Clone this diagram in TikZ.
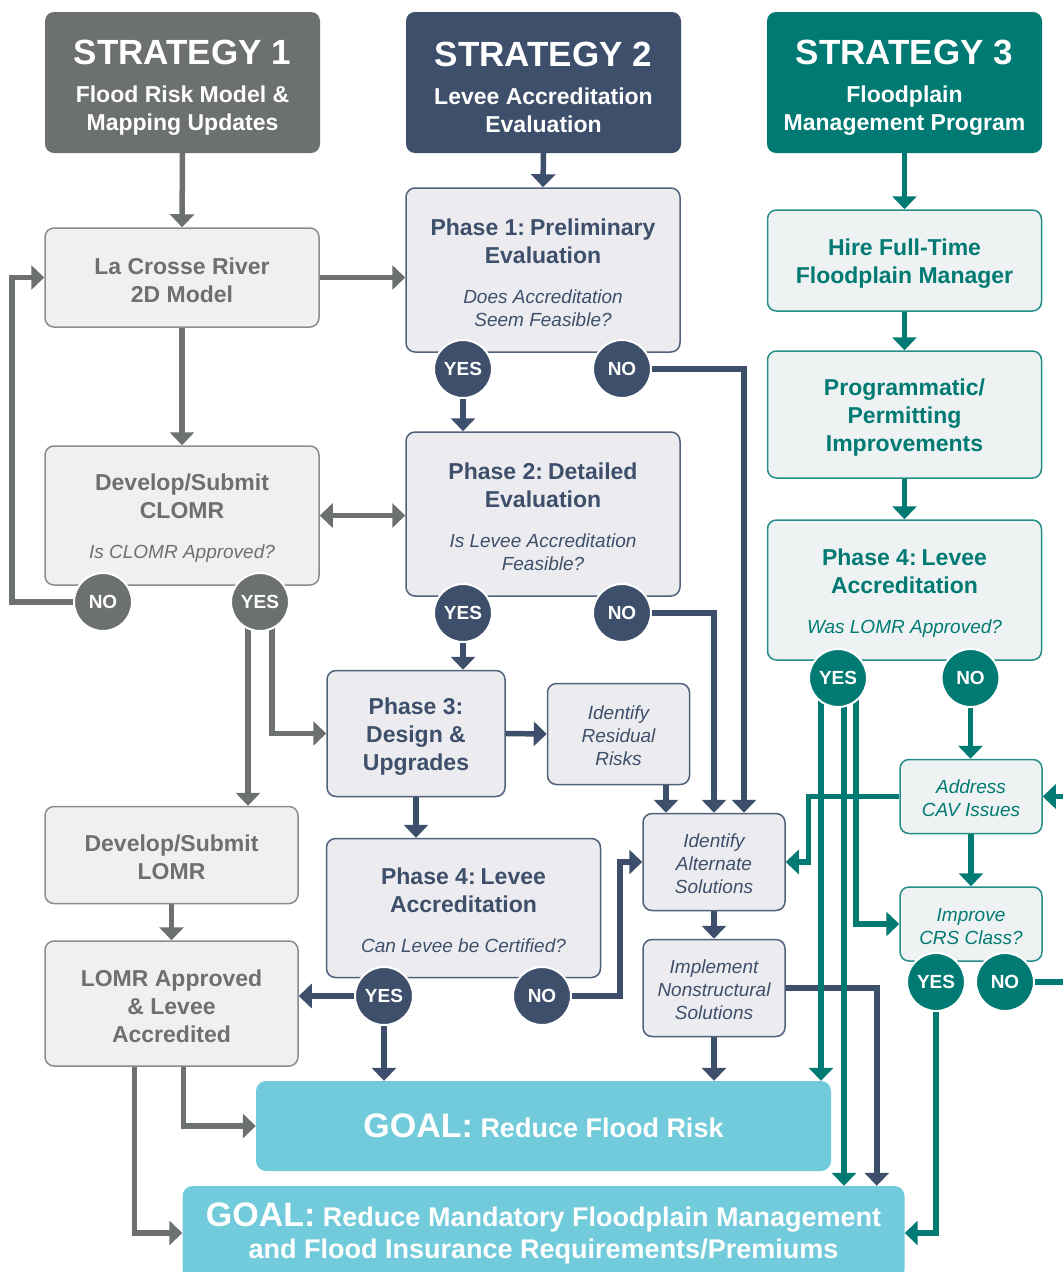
\documentclass[tikz,border=0pt]{standalone}
\usepackage{fontspec}
\setmainfont{Liberation Sans}
\usetikzlibrary{arrows.meta, positioning, backgrounds}

\definecolor{sgray}{RGB}{109,112,112}
\definecolor{snavy}{RGB}{61,79,106}
\definecolor{steal}{RGB}{0,122,115}
\definecolor{ggoal}{RGB}{114,203,218}
\definecolor{gfill}{RGB}{240,240,239}
\definecolor{nfill}{RGB}{236,236,240}
\definecolor{tfill}{RGB}{238,242,242}

% font size with a natural word space
\newcommand{\fs}[2]{\fontsize{#1}{#2}\selectfont\spaceskip=.278em\relax}
\newcommand{\hdrtxt}[2]{{\fs{35}{40}\rule{0pt}{34pt}#1\par}{\vskip10pt\fs{23}{28}#2\par}}
\newcommand{\ttl}[1]{{\fs{23}{28}\bfseries\rule{0pt}{22pt}#1\par}}
\newcommand{\qst}[1]{{\vskip17pt\fs{19}{23}\itshape #1\par}}
\newcommand{\itl}[1]{{\fs{19}{23}\itshape\rule{0pt}{18pt}#1\par}}

\tikzset{Head/.tip={Triangle[width=24pt,length=13pt]}}

\begin{document}
\begin{tikzpicture}[x=1pt, y=-1pt,
    hdr/.style={rectangle, rounded corners=9pt, text=white, font=\bfseries, align=center, inner sep=4pt, minimum width=275pt, minimum height=141pt, text width=266pt},
    gbox/.style={rectangle, rounded corners=9pt, draw=sgray!80, line width=1.5pt, fill=gfill, text=sgray, align=center, inner sep=4pt},
    nbox/.style={rectangle, rounded corners=9pt, draw=snavy!90, line width=1.5pt, fill=nfill, text=snavy, align=center, inner sep=4pt},
    tbox/.style={rectangle, rounded corners=9pt, draw=steal!85, line width=1.5pt, fill=tfill, text=steal, align=center, inner sep=4pt},
    wbig/.style={minimum width=274pt, text width=264pt},
    wlomr/.style={minimum width=253pt, text width=244pt},
    wph3/.style={minimum width=178pt, text width=170pt},
    wsmall/.style={minimum width=141pt, text width=134pt},
    dot/.style={circle, draw=white, line width=2pt, minimum size=58pt, inner sep=0pt, text=white, font=\fontsize{19}{19}\selectfont\bfseries},
    goal/.style={rectangle, rounded corners=10pt, fill=ggoal, text=white, font=\bfseries, align=center, inner sep=4pt},
    garr/.style={draw=sgray, line width=5.5pt, -Head},
    narr/.style={draw=snavy, line width=5.5pt, -Head},
    tarr/.style={draw=steal, line width=5.5pt, -Head}]

  \useasboundingbox (0,0) rectangle (1063,1272);

  % Strategy headers
  \node[hdr, fill=sgray] (st1) at (182.5,82.5) {\hdrtxt{STRATEGY 1}{Flood Risk Model \&\\Mapping Updates}};
  \node[hdr, fill=snavy] (st2) at (543.5,82.5) {\hdrtxt{STRATEGY 2}{Levee Accreditation\\Evaluation}};
  \node[hdr, fill=steal] (st3) at (904.5,82.5) {\hdrtxt{STRATEGY 3}{Floodplain\\Management Program}};

  % Strategy 1 column
  \node[gbox, wbig, minimum height=99pt] (lacrosse) at (182,277.5) {\ttl{La Crosse River\\2D Model}};
  \node[gbox, wbig, minimum height=139pt] (clomr) at (182,515.5) {\ttl{Develop/Submit\\CLOMR}\qst{Is CLOMR Approved?}};
  \node[dot, fill=sgray] (clno) at (103,602) {NO};
  \node[dot, fill=sgray] (clyes) at (260,602) {YES};
  \node[gbox, wlomr, minimum height=97pt] (lomr) at (171.5,855) {\ttl{Develop/Submit\\LOMR}};
  \node[gbox, wlomr, minimum height=125pt] (lomrok) at (171.5,1003.5) {\ttl{LOMR Approved\\\& Levee\\Accredited}};

  % Strategy 2 column
  \node[nbox, wbig, minimum height=164pt] (ph1) at (543,270) {\ttl{Phase 1: Preliminary\\Evaluation}\qst{Does Accreditation\\Seem Feasible?}};
  \node[dot, fill=snavy] (p1yes) at (463,369) {YES};
  \node[dot, fill=snavy] (p1no) at (622,369) {NO};
  \node[nbox, wbig, minimum height=164pt] (ph2) at (543,514) {\ttl{Phase 2: Detailed\\Evaluation}\qst{Is Levee Accreditation\\Feasible?}};
  \node[dot, fill=snavy] (p2yes) at (463,613) {YES};
  \node[dot, fill=snavy] (p2no) at (622,613) {NO};
  \node[nbox, wph3, minimum height=126pt] (ph3) at (416,733.5) {\ttl{Phase 3:\\Design \&\\Upgrades}};
  \node[nbox, wsmall, minimum height=101pt] (resid) at (618.5,734) {\itl{Identify\\Residual\\Risks}};
  \node[nbox, minimum width=274pt, text width=264pt, minimum height=139pt] (ph4) at (463.5,908) {\ttl{Phase 4: Levee\\Accreditation}\qst{Can Levee be Certified?}};
  \node[dot, fill=snavy] (p4yes) at (384,996) {YES};
  \node[dot, fill=snavy] (p4no) at (542,996) {NO};
  \node[nbox, wsmall, minimum height=97pt] (alt) at (714,862) {\itl{Identify\\Alternate\\Solutions}};
  \node[nbox, wsmall, minimum height=97pt] (impl) at (714,988) {\itl{Implement\\Nonstructural\\Solutions}};

  % Strategy 3 column
  \node[tbox, wbig, minimum height=101pt] (hire) at (904.5,260.5) {\ttl{Hire Full-Time\\Floodplain Manager}};
  \node[tbox, wbig, minimum height=127pt] (prog) at (904.5,414.5) {\ttl{Programmatic/\\Permitting\\Improvements}};
  \node[tbox, wbig, minimum height=140pt] (s3p4) at (904.5,590) {\ttl{Phase 4: Levee\\Accreditation}\qst{Was LOMR Approved?}};
  \node[dot, fill=steal] (s3yes) at (838,678) {YES};
  \node[dot, fill=steal] (s3no) at (970.5,678) {NO};
  \node[tbox, wsmall, minimum height=74pt] (cav) at (971,796.5) {\itl{Address\\CAV Issues}};
  \node[tbox, wsmall, minimum height=74pt] (crs) at (971,924) {\itl{Improve\\CRS Class?}};
  \node[dot, fill=steal] (crsyes) at (936,982) {YES};
  \node[dot, fill=steal] (crsno) at (1005,982) {NO};

  % Goals
  \node[goal, minimum width=575pt, minimum height=90pt] (goal1) at (543.5,1126) {\fontsize{27}{33}\selectfont{\fontsize{34}{40}\selectfont GOAL:} Reduce Flood Risk};
  \node[goal, minimum width=721pt, minimum height=94pt, text width=714pt] (goal2) at (543.5,1233) {{\fs{27}{32}{\fs{34}{32}GOAL:} Reduce Mandatory Floodplain Management\\and Flood Insurance Requirements/Premiums\par}};

  \begin{scope}[on background layer]
    % Strategy 1 arrows
    \draw[garr] (st1.south) -- (lacrosse.north);
    \draw[garr] (lacrosse.east) -- (lacrosse.east -| ph1.west);
    \draw[garr] (lacrosse.south) -- (clomr.north);
    \draw[garr, Head-Head] (clomr.east) -- (clomr.east -| ph2.west);
    \draw[garr] (clno.center) -- ++(-91,0) |- (lacrosse.west);
    \draw[garr] ([xshift=-12pt]clyes.center) -- ([xshift=-12pt]clyes.center |- lomr.north);
    \draw[garr] ([xshift=12pt]clyes.center) |- (ph3.west);
    \draw[garr] (lomr.south) -- (lomrok.north);
    \draw[garr] ([xshift=-37pt]lomrok.south) |- (goal2.west);
    \draw[garr] ([xshift=12pt]lomrok.south) |- (goal1.west);

    % Strategy 2 arrows
    \draw[narr] (st2.south) -- (ph1.north);
    \draw[narr] (p1yes.center) -- (p1yes.center |- ph2.north);
    \draw[narr] (p1no.center) -| ([xshift=30pt]alt.north);
    \draw[narr] (p2yes.center) -- (p2yes.center |- ph3.north);
    \draw[narr] (p2no.center) -| (alt.north);
    \draw[narr] (ph3.east) -- (resid.west);
    \draw[narr] ([xshift=-48pt]alt.north |- resid.south) -- ([xshift=-48pt]alt.north);
    \draw[narr] (ph3.south) -- (ph3.south |- ph4.north);
    \draw[narr] (p4yes.center) -- (p4yes.center -| lomrok.east);
    \draw[narr] (p4yes.center) -- (p4yes.center |- goal1.north);
    \draw[narr] (p4no.center) -- ++(78,0) |- (alt.west);
    \draw[narr] (alt.south) -- (impl.north);
    \draw[narr] (impl.south) -- (impl.south |- goal1.north);
    \draw[narr] (impl.east) -| ([xshift=91pt]impl.east |- goal2.north);

    % Strategy 3 arrows
    \draw[tarr] (st3.south) -- (hire.north);
    \draw[tarr] (hire.south) -- (prog.north);
    \draw[tarr] (prog.south) -- (s3p4.north);
    \draw[tarr] ([xshift=-17pt]s3yes.center) -- ([xshift=-17pt]s3yes.center |- goal1.north);
    \draw[tarr] ([xshift=6pt]s3yes.center) -- ([xshift=6pt]s3yes.center |- goal2.north);
    \draw[tarr] ([xshift=18pt]s3yes.center) |- (crs.west);
    \draw[tarr] (s3no.center) -- (s3no.center |- cav.north);
    \draw[tarr] (cav.west) -- ++(-91,0) |- (alt.east);
    \draw[tarr] (cav.south) -- (crs.north);
    \draw[tarr] (crsyes.center) |- (goal2.east);
    \draw[tarr] (crsno.center) -- ++(75,0) |- (cav.east);
  \end{scope}
\end{tikzpicture}
\end{document}
